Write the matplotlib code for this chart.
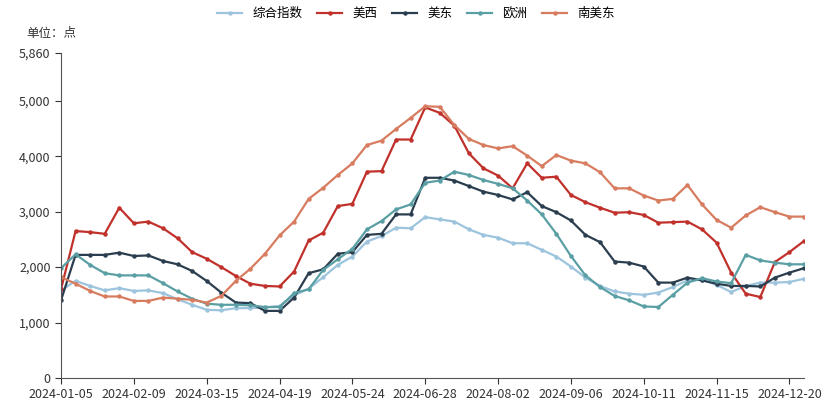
import matplotlib
matplotlib.use("Agg")
import matplotlib.pyplot as plt
import numpy as np
import pandas as pd

plt.rcParams["font.family"] = ["Noto Sans CJK SC", "DejaVu Sans"]

dates = pd.date_range("2024-01-05", periods=52, freq="7D")
tick_labels = ["2024-01-05", "2024-02-09", "2024-03-15", "2024-04-19", "2024-05-24", "2024-06-28",
               "2024-08-02", "2024-09-06", "2024-10-11", "2024-11-15", "2024-12-20"]

composite = [1580,1750,1660,1580,1620,1570,1580,1530,1420,1320,1230,1220,1260,1260,1270,1300,1490,1610,1820,2040,
             2190,2460,2560,2710,2700,2900,2860,2820,2680,2580,2530,2430,2430,2310,2190,2010,1810,1660,1560,1520,
             1500,1540,1640,1760,1770,1680,1550,1660,1720,1720,1730,1790]
us_west = [1600,2650,2630,2600,3070,2790,2820,2700,2520,2270,2150,2000,1840,1700,1660,1650,1920,2480,2620,3100,
           3140,3720,3730,4300,4300,4880,4780,4550,4050,3780,3650,3420,3870,3610,3630,3300,3170,3070,2980,2990,
           2940,2800,2810,2820,2680,2440,1900,1520,1460,2090,2270,2470]
us_east = [1400,2220,2220,2220,2260,2200,2210,2110,2050,1930,1750,1540,1360,1350,1210,1210,1450,1890,1960,2240,
           2270,2580,2600,2950,2950,3610,3610,3560,3460,3360,3300,3220,3350,3100,2990,2840,2580,2450,2100,2080,
           2010,1720,1720,1810,1760,1700,1660,1660,1650,1810,1900,1980]
europe = [1980,2230,2040,1890,1850,1850,1850,1710,1560,1430,1340,1320,1320,1310,1280,1280,1530,1600,1950,2140,
          2330,2680,2830,3040,3130,3520,3560,3720,3660,3570,3500,3420,3200,2950,2600,2200,1850,1640,1480,1400,
          1290,1280,1500,1720,1800,1740,1710,2220,2120,2080,2050,2050]
sa_east = [1820,1700,1570,1470,1470,1390,1390,1450,1430,1410,1360,1480,1750,1970,2240,2570,2820,3230,3430,3660,
           3870,4200,4280,4490,4690,4900,4890,4560,4310,4200,4140,4180,4010,3820,4020,3920,3870,3710,3420,3420,
           3290,3200,3230,3480,3130,2850,2710,2930,3080,2990,2910,2910]

series = [("综合指数", composite, "#9dc4dd"), ("美西", us_west, "#c1312c"), ("美东", us_east, "#2b3e4f"),
          ("欧洲", europe, "#5a9fa4"), ("南美东", sa_east, "#d87c60")]

fig = plt.figure(figsize=(8.32, 4.04), dpi=100)
ax = fig.add_axes([61/832, 26/404, 743/832, 325/404])
x = np.arange(len(dates))
for name, vals, col in series:
    ax.plot(x, vals, color=col, lw=1.6, marker="o", ms=2.2, label=name)

ax.set_xlim(0, len(dates) - 1)
ax.set_ylim(0, 5860)
ax.set_yticks([0, 1000, 2000, 3000, 4000, 5000, 5860])
ax.set_yticklabels(["0", "1,000", "2,000", "3,000", "4,000", "5,000", "5,860"])
ticks = [i for i, d in enumerate(dates) if d.strftime("%Y-%m-%d") in tick_labels]
ax.set_xticks(ticks)
ax.set_xticklabels(tick_labels)
for s in ["top", "right"]:
    ax.spines[s].set_visible(False)
for s in ["left", "bottom"]:
    ax.spines[s].set_color("#555555")
ax.tick_params(labelsize=9, colors="#333333", length=4)
fig.text(26/832, 1 - 33/404, "单位：点", fontsize=9, color="#333333", va="center")
fig.legend(loc="upper center", ncol=5, frameon=False, fontsize=9, bbox_to_anchor=(0.5, 1.01),
           handlelength=2, columnspacing=1.2)
fig.savefig("out.png", dpi=100)
